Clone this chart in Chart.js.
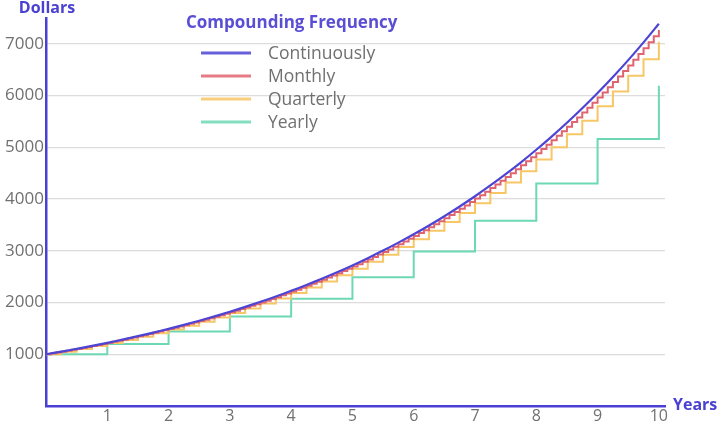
<!DOCTYPE html>
<html>
<head>
<meta charset="utf-8">
<script src="https://cdn.jsdelivr.net/npm/chart.js@4"></script>
<style>
  html, body { margin: 0; padding: 0; background: #fff; }
  #wrap { width: 720px; height: 424px; }
</style>
</head>
<body>
<div id="wrap"><canvas id="chartCanvas" width="720" height="424"></canvas></div>
<script>
// values ($1000 growing over 10 years)
const seriesLabels = ["Continuously", "Monthly", "Quarterly", "Yearly"];
const seriesColors = ["#4d44d4", "#e0646e", "#f7c666", "#6cd8b4"];

// every quarter of a year, 0 .. 10
const continuousValues = [1000, 1051, 1105, 1162, 1221, 1284, 1350, 1419, 1492, 1568,
  1649, 1733, 1822, 1916, 2014, 2117, 2226, 2340, 2460, 2586,
  2718, 2858, 3004, 3158, 3320, 3490, 3669, 3857, 4055, 4263,
  4482, 4711, 4953, 5207, 5474, 5755, 6050, 6360, 6686, 7029, 7389];

// every month, 0 .. 120
const monthlyValues = [1000, 1017, 1034, 1051, 1068, 1086, 1104, 1123, 1141, 1160, 1180, 1199,
  1219, 1240, 1260, 1281, 1303, 1324, 1347, 1369, 1392, 1415, 1439, 1463,
  1487, 1512, 1537, 1563, 1589, 1615, 1642, 1669, 1697, 1725, 1754, 1783,
  1813, 1843, 1874, 1905, 1937, 1969, 2002, 2036, 2070, 2104, 2139, 2175,
  2211, 2248, 2285, 2323, 2362, 2401, 2441, 2482, 2524, 2566, 2608, 2652,
  2696, 2741, 2787, 2833, 2880, 2928, 2977, 3027, 3077, 3128, 3181, 3234,
  3287, 3342, 3398, 3455, 3512, 3571, 3630, 3691, 3752, 3815, 3878, 3943,
  4009, 4076, 4143, 4213, 4283, 4354, 4427, 4500, 4575, 4652, 4729, 4808,
  4888, 4970, 5052, 5137, 5222, 5309, 5398, 5488, 5579, 5672, 5767, 5863,
  5961, 6060, 6161, 6264, 6368, 6474, 6582, 6692, 6803, 6917, 7032, 7149,
  7268];

// every quarter, 0 .. 40
const quarterlyValues = [1000, 1050, 1103, 1158, 1216, 1276, 1340, 1407, 1477, 1551,
  1629, 1710, 1796, 1886, 1980, 2079, 2183, 2292, 2407, 2527,
  2653, 2786, 2925, 3072, 3225, 3386, 3556, 3733, 3920, 4116,
  4322, 4538, 4765, 5003, 5253, 5516, 5792, 6081, 6385, 6705, 7040];

// every year, 0 .. 10
const yearlyValues = [1000, 1200, 1440, 1728, 2074, 2488, 2986, 3583, 4300, 5160, 6192];

const xTickLabels = [1, 2, 3, 4, 5, 6, 7, 8, 9, 10];
const yTickLabels = [1000, 2000, 3000, 4000, 5000, 6000, 7000];

function toPoints(values, perYear) {
  return values.map((v, i) => ({ x: i / perYear, y: v }));
}

const FONT = "'Open Sans', sans-serif";
const BLUE = "#4a40d2";
const GREY = "#707070";

// "Dollars", "Years" and the legend box are drawn at fixed spots like the picture
const labelsPlugin = {
  id: "labelsPlugin",
  afterDraw(chart) {
    const c = chart.ctx;
    const area = chart.chartArea;
    c.save();
    c.fillStyle = BLUE;
    c.font = "bold 16px " + FONT;
    c.textBaseline = "middle";
    c.textAlign = "center";
    c.fillText("Dollars", area.left + 1, 8);
    c.textAlign = "left";
    c.fillText("Years", area.right + 8, area.bottom - 1);

    // legend
    c.fillStyle = "#5a4fd4";
    c.font = "bold 17px " + FONT;
    c.fillText("Compounding Frequency", 186, 23);
    c.font = "17.5px " + FONT;
    chart.data.datasets.forEach((ds, i) => {
      const y = 53 + i * 23;
      c.strokeStyle = ds.borderColor;
      c.lineWidth = 3;
      c.globalAlpha = 0.85;
      c.beginPath();
      c.moveTo(201, y);
      c.lineTo(251, y);
      c.stroke();
      c.globalAlpha = 1;
      c.fillStyle = GREY;
      c.fillText(ds.label, 268, y + 1);
    });
    c.restore();
  }
};

let ctx = document.querySelector("#chartCanvas");
let graph = new Chart(ctx, {
  type: "line",
  data: {
    datasets: [
      { label: seriesLabels[0], data: toPoints(continuousValues, 4), borderColor: seriesColors[0],
        borderWidth: 2.2, pointRadius: 0, tension: 0.3 },
      { label: seriesLabels[1], data: toPoints(monthlyValues, 12), borderColor: seriesColors[1],
        borderWidth: 2, pointRadius: 0, stepped: true },
      { label: seriesLabels[2], data: toPoints(quarterlyValues, 4), borderColor: seriesColors[2],
        borderWidth: 2, pointRadius: 0, stepped: true },
      { label: seriesLabels[3], data: toPoints(yearlyValues, 1), borderColor: seriesColors[3],
        borderWidth: 2, pointRadius: 0, stepped: true }
    ]
  },
  options: {
    responsive: false,
    animation: false,
    layout: { padding: { top: 18, right: 55, left: 0, bottom: 0 } },
    plugins: {
      legend: { display: false },
      tooltip: { enabled: false }
    },
    scales: {
      x: {
        type: "linear",
        min: 0,
        max: 10.1,
        afterBuildTicks: (axis) => { axis.ticks = xTickLabels.map(v => ({ value: v })); },
        afterFit: (axis) => { axis.height = 18; },
        grid: { display: false, drawTicks: false },
        border: { display: true, color: BLUE, width: 2.5 },
        ticks: { color: GREY, font: { family: FONT, size: 16, lineHeight: 1 }, padding: 2, maxRotation: 0,
                 callback: (v) => String(v) }
      },
      y: {
        min: 0,
        max: 7500,
        afterBuildTicks: (axis) => { axis.ticks = yTickLabels.map(v => ({ value: v })); },
        afterFit: (axis) => { axis.width = 46; },
        grid: { color: "#dcdcdc", lineWidth: 1.2, drawTicks: false },
        border: { display: true, color: BLUE, width: 2.5 },
        ticks: { color: GREY, font: { family: FONT, size: 17 }, padding: 2,
                 callback: (v) => String(v) }
      }
    }
  },
  plugins: [labelsPlugin]
});
</script>
</body>
</html>
